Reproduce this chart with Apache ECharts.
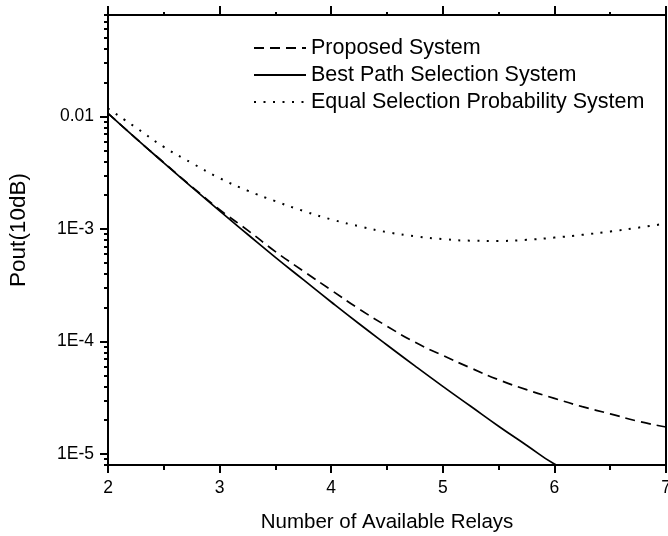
<!DOCTYPE html>
<html>
<head>
<meta charset="utf-8">
<script src="https://cdn.jsdelivr.net/npm/echarts@6/dist/echarts.min.js"></script>
<style>
  html, body { margin: 0; padding: 0; background: #fff; }
  #pout { width: 668px; height: 536px; }
</style>
</head>
<body>
<div id="pout"></div>
<script>
// number of relays (x)
var relays = [2, 2.25, 2.5, 2.75, 3, 3.25, 3.5, 3.75, 4, 4.25, 4.5, 4.75, 5, 5.25, 5.5, 5.75, 6, 6.25, 6.5, 6.75, 7];

// outage probability
var proposed = [0.0107, 0.00641, 0.0039, 0.00239, 0.00149, 0.00098, 0.000631, 0.000424, 0.000287, 0.000195,
  0.000137, 9.88e-5, 7.53e-5, 5.83e-5, 4.58e-5, 3.74e-5, 3.13e-5, 2.64e-5, 2.28e-5, 1.96e-5, 1.74e-5];
var bestPath = [0.0107, 0.00641, 0.00388, 0.00236, 0.00145, 0.0009, 0.000561, 0.000355, 0.000225, 0.000144,
  9.33e-5, 6.08e-5, 4.0e-5, 2.66e-5, 1.77e-5, 1.2e-5, 8.15e-6, 6.2e-6];
var equalProb = [0.0118, 0.00799, 0.00538, 0.00387, 0.00284, 0.0022, 0.00177, 0.00145, 0.00122, 0.00106,
  0.00094, 0.000863, 0.000815, 0.000789, 0.000785, 0.000803, 0.00084, 0.00089, 0.00095, 0.00103, 0.00112];

var seriesNames = ['Proposed System', 'Best Path Selection System', 'Equal Selection Probability System'];

// y axis range and labelled decades
var yMin = 8e-6, yMax = 0.08;
var yTickExp = [-5, -4, -3, -2];
var yTickLabels = ['1E-5', '1E-4', '1E-3', '0.01'];

var fontFam = 'Liberation Sans, Arial, sans-serif';

function pairs(vals) {
  return vals.map(function (v, i) { return [relays[i], v]; });
}

// minor ticks at 2..9 x 10^n, in log10 space
var minorPos = [];
for (var n = -6; n <= -2; n++) {
  for (var k = 2; k <= 9; k++) {
    var p = Math.log10(k * Math.pow(10, n));
    if (p >= Math.log10(yMin) && p <= Math.log10(yMax)) minorPos.push(p);
  }
}

var chart = echarts.init(document.getElementById('pout'));

var blackLine = { lineStyle: { color: '#000', width: 2 } };

var option = {
  animation: false,
  backgroundColor: '#fff',
  grid: { left: 108, right: 2, top: 15, bottom: 71, outerBoundsMode: 'none' },
  legend: {
    orient: 'vertical',
    left: 248,
    top: 32,
    itemWidth: 52,
    itemHeight: 21,
    itemGap: 5,
    itemStyle: { opacity: 0 },
    textStyle: { fontFamily: fontFam, fontSize: 21.5, color: '#000' },
    data: seriesNames
  },
  xAxis: [
    {
      type: 'value',
      position: 'bottom',
      min: 2, max: 7, interval: 1,
      name: 'Number of Available Relays',
      nameLocation: 'middle',
      nameGap: 47,
      nameTextStyle: { fontFamily: fontFam, fontSize: 20.5, color: '#000' },
      axisLine: blackLine,
      axisTick: { show: true, length: 8, lineStyle: { color: '#000', width: 2 } },
      minorTick: { show: true, splitNumber: 2, length: 5, lineStyle: { color: '#000', width: 2 } },
      axisLabel: { fontFamily: fontFam, fontSize: 17.5, color: '#000', margin: 14 },
      splitLine: { show: false }
    },
    {
      type: 'value',
      position: 'top',
      min: 2, max: 7, interval: 1,
      axisLine: blackLine,
      axisTick: { show: true, length: 9, lineStyle: { color: '#000', width: 2 } },
      minorTick: { show: true, splitNumber: 2, length: 3, lineStyle: { color: '#000', width: 2 } },
      axisLabel: { show: false },
      splitLine: { show: false }
    }
  ],
  yAxis: [
    {
      type: 'log',
      logBase: 10,
      position: 'left',
      min: yMin, max: yMax,
      name: 'Pout(10dB)',
      nameLocation: 'middle',
      nameGap: 78,
      nameTextStyle: { fontFamily: fontFam, fontSize: 22.5, color: '#000', padding: [0, 0, 0, 20] },
      axisLine: blackLine,
      axisTick: { show: false },
      axisLabel: { show: false },
      splitLine: { show: false }
    },
    {
      // decade ticks and labels, on log10 positions
      type: 'value',
      position: 'left',
      min: Math.log10(yMin), max: Math.log10(yMax),
      axisLine: { show: false },
      axisTick: { show: true, length: 8, customValues: yTickExp, lineStyle: { color: '#000', width: 2 } },
      axisLabel: {
        customValues: yTickExp,
        fontFamily: fontFam, fontSize: 17.5, color: '#000', margin: 14,
        formatter: function (v) {
          var i = yTickExp.indexOf(Math.round(v));
          return i >= 0 ? yTickLabels[i] : '';
        }
      },
      splitLine: { show: false }
    },
    {
      // minor log ticks
      type: 'value',
      position: 'left',
      min: Math.log10(yMin), max: Math.log10(yMax),
      axisLine: { show: false },
      axisTick: { show: true, length: 4, customValues: minorPos, lineStyle: { color: '#000', width: 2 } },
      axisLabel: { show: false },
      splitLine: { show: false }
    },
    {
      type: 'log',
      position: 'right',
      min: yMin, max: yMax,
      axisLine: blackLine,
      axisTick: { show: false },
      axisLabel: { show: false },
      splitLine: { show: false }
    }
  ],
  series: [
    {
      name: seriesNames[0],
      type: 'line',
      smooth: true,
      symbol: 'none',
      clip: true,
      itemStyle: { color: '#000' },
      lineStyle: { color: '#000', width: 1.7, type: [10, 6] },
      data: pairs(proposed)
    },
    {
      name: seriesNames[1],
      type: 'line',
      smooth: true,
      symbol: 'none',
      clip: true,
      itemStyle: { color: '#000' },
      lineStyle: { color: '#000', width: 1.7, type: 'solid' },
      data: pairs(bestPath)
    },
    {
      name: seriesNames[2],
      type: 'line',
      smooth: true,
      symbol: 'none',
      clip: true,
      itemStyle: { color: '#000' },
      lineStyle: { color: '#000', width: 2, type: [2, 7.5] },
      data: pairs(equalProb)
    }
  ]
};

chart.setOption(option);
</script>
</body>
</html>
